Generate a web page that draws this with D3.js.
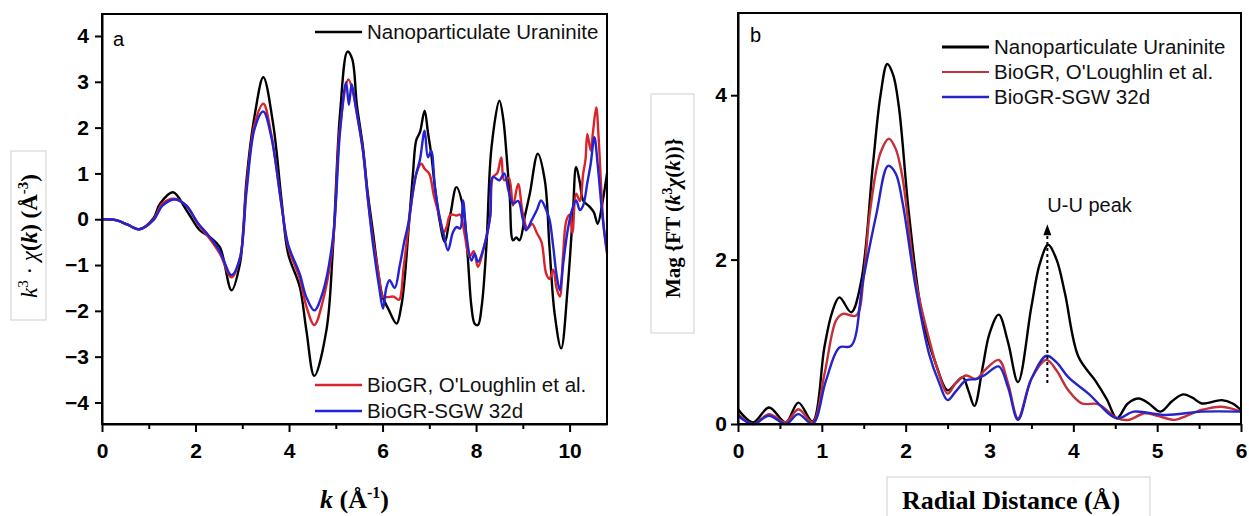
<!DOCTYPE html>
<html lang="en">
<head>
    <meta charset="UTF-8">
    <title>EXAFS uraninite comparison</title>
    <script src="https://d3js.org/d3.v7.min.js"></script>
    <style>
        body { margin: 0; background: #fff; }
        svg { font-family: "Liberation Sans", Arial, sans-serif; }
        .axis path, .axis line { stroke: #000; stroke-width: 2; }
        .axis text { font-size: 21px; font-weight: bold; fill: #000; }
        .legend text { font-size: 20.5px; fill: #111; }
        .serif { font-family: "Liberation Serif", "Times New Roman", serif; font-weight: bold; }
        .curve { fill: none; stroke-width: 2.4; stroke-linejoin: round; }
    </style>
</head>
<body>
<div id="chart"></div>
<script>
    // ---- panel a: k^3 chi(k), pairs of [k, value] ----
    var kUraninite = [
        [0,0],[0.3,-0.02],[0.55,-0.12],[0.8,-0.22],[1.1,0.02],[1.24,0.34],[1.52,0.59],[1.81,0.19],
        [2.09,-0.24],[2.31,-0.39],[2.52,-0.61],[2.77,-1.55],[2.95,-0.97],[3.02,-0.24],[3.09,0.85],
        [3.27,2.3],[3.45,3.10],[3.66,2.08],[3.84,0.41],[3.98,-0.75],[4.23,-1.48],[4.37,-2.42],
        [4.54,-3.42],[4.80,-2.42],[4.94,-0.61],[5.09,2.3],[5.25,3.66],[5.35,3.5],[5.45,2.5],
        [5.58,1.58],[5.68,0.6],[5.79,-0.24],[5.9,-1.1],[6.0,-1.69],[6.12,-1.95],[6.30,-2.28],
        [6.40,-1.9],[6.47,-1.33],[6.55,-0.3],[6.65,1.0],[6.72,1.72],[6.80,1.9],[6.90,2.37],
        [6.97,1.9],[7.04,1.43],[7.12,0.7],[7.22,-0.03],[7.33,-0.49],[7.45,0.1],[7.58,0.70],
        [7.72,0.27],[7.82,-0.8],[7.90,-1.9],[7.97,-2.28],[8.04,-2.31],[8.12,-1.9],[8.22,-0.6],
        [8.33,1.57],[8.50,2.59],[8.58,2.2],[8.65,1.43],[8.72,0.5],[8.79,-0.46],[8.86,-0.4],
        [8.93,-0.46],[9.05,0.1],[9.15,0.56],[9.32,1.43],[9.47,0.85],[9.57,-0.6],[9.68,-2.06],
        [9.82,-2.82],[9.96,-1.48],[10.07,0.12],[10.14,1.14],[10.22,0.8],[10.29,0.41],[10.43,0.27],
        [10.52,0.15],[10.60,-0.10],[10.71,0.41],[10.8,1.0]
    ];
    var kOLoughlin = [
        [0,0],[0.3,-0.02],[0.55,-0.12],[0.8,-0.22],[1.1,0.0],[1.3,0.35],[1.55,0.45],[1.8,0.3],
        [2.05,-0.1],[2.3,-0.42],[2.52,-0.75],[2.77,-1.27],[2.95,-0.85],[3.09,0.7],[3.27,2.1],
        [3.45,2.52],[3.62,1.85],[3.84,0.3],[3.98,-0.6],[4.23,-1.3],[4.37,-1.9],[4.54,-2.31],
        [4.72,-1.8],[4.94,-0.5],[5.09,2.0],[5.27,3.05],[5.38,2.7],[5.45,2.3],[5.58,1.5],[5.68,0.5],
        [5.79,-0.4],[5.93,-1.3],[6.0,-1.69],[6.10,-1.7],[6.24,-1.69],[6.35,-1.76],[6.45,-1.06],
        [6.55,-0.2],[6.65,0.6],[6.72,0.99],[6.83,1.21],[6.90,1.1],[7.0,0.99],[7.1,0.5],[7.22,0.05],
        [7.30,-0.3],[7.37,-0.17],[7.45,0.1],[7.58,0.08],[7.66,0.1],[7.75,-0.3],[7.86,-0.82],
        [7.95,-0.7],[8.04,-1.04],[8.17,-0.6],[8.30,0.05],[8.36,0.92],[8.45,1.0],[8.54,1.35],
        [8.60,0.85],[8.70,0.9],[8.79,0.3],[8.9,0.77],[9.0,0.12],[9.1,-0.2],[9.2,-0.1],[9.3,-0.3],
        [9.40,-0.5],[9.50,-1.19],[9.57,-1.3],[9.65,-1.1],[9.72,-1.5],[9.79,-1.69],[9.86,-0.8],
        [9.93,-0.03],[10.0,0.1],[10.06,-0.3],[10.14,0.56],[10.22,0.4],[10.29,0.99],[10.34,1.3],
        [10.38,1.86],[10.45,1.5],[10.50,1.9],[10.57,2.44],[10.62,1.8],[10.68,0.6],[10.73,-0.17],
        [10.8,-0.75]
    ];
    var kSGW32d = [
        [0,0],[0.3,-0.02],[0.55,-0.12],[0.8,-0.22],[1.1,-0.02],[1.3,0.30],[1.55,0.43],[1.8,0.3],
        [2.05,-0.08],[2.3,-0.38],[2.52,-0.7],[2.77,-1.22],[2.95,-0.85],[3.09,0.6],[3.27,2.0],
        [3.45,2.35],[3.62,1.8],[3.84,0.3],[3.98,-0.55],[4.23,-1.2],[4.37,-1.7],[4.54,-1.99],
        [4.72,-1.6],[4.94,-0.4],[5.09,1.9],[5.22,2.99],[5.28,2.5],[5.34,2.95],[5.42,2.5],[5.58,1.5],
        [5.68,0.5],[5.79,-0.5],[5.93,-1.5],[6.01,-1.95],[6.08,-1.5],[6.15,-1.33],[6.26,-1.5],
        [6.37,-1.0],[6.47,-0.46],[6.55,-0.1],[6.65,0.6],[6.72,0.99],[6.80,1.3],[6.90,1.93],
        [6.97,1.35],[7.04,1.49],[7.12,0.7],[7.22,0.05],[7.30,-0.3],[7.40,-0.68],[7.50,-0.3],
        [7.58,-0.17],[7.66,-0.2],[7.72,0.41],[7.80,-0.4],[7.90,-0.9],[7.97,-0.75],[8.04,-0.93],
        [8.17,-0.6],[8.30,0.05],[8.36,0.92],[8.50,0.85],[8.60,1.0],[8.70,0.6],[8.79,0.34],
        [8.90,0.4],[9.0,0.0],[9.07,-0.24],[9.2,0.0],[9.30,0.2],[9.39,0.41],[9.50,0.2],[9.57,0.0],
        [9.65,-0.6],[9.72,-1.2],[9.79,-1.55],[9.86,-1.0],[9.95,-0.3],[10.05,0.2],[10.14,0.41],
        [10.22,0.2],[10.29,0.3],[10.38,0.8],[10.45,1.2],[10.53,1.79],[10.60,1.2],[10.68,0.3],
        [10.73,-0.17],[10.8,-0.7]
    ];

    // ---- panel b: FT magnitude, pairs of [R, magnitude] ----
    var rUraninite = [
        [0,0.18],[0.18,0.02],[0.37,0.20],[0.57,0.02],[0.72,0.26],[0.89,0.03],[1.03,0.93],[1.12,1.35],
        [1.21,1.54],[1.35,1.36],[1.47,1.74],[1.61,3.16],[1.70,4.0],[1.78,4.38],[1.85,4.25],[1.92,3.85],
        [2.04,2.55],[2.20,1.30],[2.36,0.73],[2.50,0.41],[2.60,0.50],[2.68,0.57],[2.75,0.4],[2.82,0.22],
        [2.92,0.7],[3.0,1.1],[3.11,1.33],[3.22,1.0],[3.34,0.51],[3.50,1.43],[3.60,1.95],[3.70,2.18],
        [3.80,2.0],[3.90,1.59],[4.06,0.82],[4.26,0.53],[4.40,0.3],[4.52,0.07],[4.65,0.25],[4.78,0.31],
        [4.90,0.25],[5.04,0.15],[5.18,0.28],[5.31,0.36],[5.42,0.32],[5.53,0.25],[5.77,0.29],[5.90,0.25],
        [6.0,0.17]
    ];
    var rOLoughlin = [
        [0,0.12],[0.18,0.0],[0.37,0.12],[0.57,0.02],[0.72,0.18],[0.89,0.02],[1.03,0.6],[1.17,1.26],
        [1.25,1.34],[1.41,1.32],[1.50,1.8],[1.57,2.55],[1.70,3.3],[1.80,3.47],[1.88,3.35],[1.96,3.01],
        [2.12,1.74],[2.28,1.03],[2.40,0.6],[2.50,0.37],[2.60,0.5],[2.72,0.59],[2.84,0.55],[2.95,0.66],
        [3.11,0.78],[3.22,0.5],[3.34,0.07],[3.50,0.55],[3.68,0.78],[3.80,0.65],[3.94,0.41],[4.10,0.25],
        [4.30,0.24],[4.52,0.07],[4.66,0.05],[4.85,0.13],[5.0,0.1],[5.21,0.05],[5.35,0.1],[5.53,0.17],
        [5.77,0.21],[6.0,0.15]
    ];
    var rSGW32d = [
        [0,0.10],[0.18,0.0],[0.37,0.10],[0.57,0.0],[0.72,0.12],[0.89,0.0],[1.05,0.53],[1.21,0.93],
        [1.35,0.95],[1.49,1.74],[1.65,2.55],[1.79,3.14],[1.88,3.05],[1.96,2.71],[2.12,1.66],[2.28,0.85],
        [2.40,0.5],[2.50,0.29],[2.60,0.4],[2.72,0.53],[2.85,0.55],[2.95,0.6],[3.11,0.70],[3.22,0.45],
        [3.34,0.05],[3.50,0.55],[3.68,0.83],[3.80,0.75],[3.94,0.57],[4.18,0.37],[4.52,0.07],[4.72,0.15],
        [5.1,0.11],[5.53,0.15],[6.0,0.15]
    ];

    var seriesNames = ["Nanoparticulate Uraninite", "BioGR, O'Loughlin et al.", "BioGR-SGW 32d"];
    var seriesColors = ["#000000", "#d8242a", "#2222d6"];
    var seriesColorsB = ["#000000", "#c43038", "#2424c8"];

    var kTicks = [0, 2, 4, 6, 8, 10];
    var kMinorTicks = [1, 3, 5, 7, 9];
    var chiTicks = [-4, -3, -2, -1, 0, 1, 2, 3, 4];
    var rTicks = [0, 1, 2, 3, 4, 5, 6];
    var rMinorTicks = [0.5, 1.5, 2.5, 3.5, 4.5, 5.5];
    var magTicks = [0, 2, 4];
    var uuPeakR = 3.69, uuArrow = [0.5, 2.43];

    var width = 1249, height = 516;
    var svg = d3.select("#chart").append("svg")
        .attr("width", width)
        .attr("height", height);

    // scales
    var xA = d3.scaleLinear().domain([0, 10.8]).range([102, 607]);
    var yA = d3.scaleLinear().domain([-4.47, 4.48]).range([424, 14]);
    var xB = d3.scaleLinear().domain([0, 6]).range([738, 1241]);
    var yB = d3.scaleLinear().domain([0, 5]).range([424, 13]);

    function drawFrame(x, y) {
        svg.append("rect")
            .attr("x", x.range()[0]).attr("y", y.range()[1])
            .attr("width", x.range()[1] - x.range()[0])
            .attr("height", y.range()[0] - y.range()[1])
            .attr("fill", "none").attr("stroke", "#000").attr("stroke-width", 2);
    }

    function drawAxes(x, y, xt, xm, yt, yPad) {
        svg.append("g").attr("class", "axis")
            .attr("transform", "translate(0," + y.range()[0] + ")")
            .call(d3.axisBottom(x).tickValues(xm).tickSize(5).tickFormat(""))
            .select(".domain").remove();
        svg.append("g").attr("class", "axis")
            .attr("transform", "translate(0," + y.range()[0] + ")")
            .call(d3.axisBottom(x).tickValues(xt).tickSize(8).tickPadding(11).tickSizeOuter(0).tickFormat(d3.format("d")));
        svg.append("g").attr("class", "axis")
            .attr("transform", "translate(" + x.range()[0] + ",0)")
            .call(d3.axisLeft(y).tickValues(yt).tickSize(7).tickPadding(yPad).tickSizeOuter(0).tickFormat(d3.format("d")));
    }

    function drawLines(x, y, sets, colors, w) {
        var line = d3.line()
            .x(function(d) { return x(d[0]); })
            .y(function(d) { return y(d[1]); })
            .curve(d3.curveCatmullRom.alpha(0.5));
        sets.forEach(function(s, i) {
            svg.append("path")
                .datum(s)
                .attr("class", "curve")
                .attr("stroke", colors[i])
                .attr("stroke-width", w)
                .attr("d", line);
        });
    }

    function legendRow(x0, y0, name, color, lw) {
        var g = svg.append("g").attr("class", "legend");
        g.append("line")
            .attr("x1", x0).attr("x2", x0 + 47)
            .attr("y1", y0).attr("y2", y0)
            .attr("stroke", color).attr("stroke-width", lw);
        g.append("text")
            .attr("x", x0 + 52).attr("y", y0 + 7)
            .text(name);
    }

    // ---- panel a ----
    drawLines(xA, yA, [kUraninite, kOLoughlin, kSGW32d], seriesColors, 2.4);
    drawFrame(xA, yA);
    drawAxes(xA, yA, kTicks, kMinorTicks, chiTicks, 6);

    svg.append("text").attr("x", 113).attr("y", 46)
        .style("font-size", "20px").text("a");

    legendRow(315, 32, seriesNames[0], seriesColors[0], 2.4);
    legendRow(315, 385, seriesNames[1], seriesColors[1], 2.6);
    legendRow(315, 411, seriesNames[2], seriesColors[2], 2.6);

    // y label a
    svg.append("rect").attr("x", 11).attr("y", 151).attr("width", 35).attr("height", 169)
        .attr("fill", "#fff").attr("stroke", "#cfcfcf").attr("stroke-width", 1);
    var yla = svg.append("text").attr("class", "serif")
        .attr("transform", "translate(37,236) rotate(-90)")
        .attr("text-anchor", "middle")
        .style("font-size", "23px");
    yla.append("tspan").style("font-style", "italic").style("font-weight", "normal").text("k");
    yla.append("tspan").attr("dy", -9).style("font-size", "15px").style("font-weight", "normal").text("3");
    yla.append("tspan").attr("dy", 9).style("font-weight", "normal").text(" · ");
    yla.append("tspan").style("font-style", "italic").style("font-weight", "normal").text("χ");
    yla.append("tspan").text("(");
    yla.append("tspan").style("font-style", "italic").text("k");
    yla.append("tspan").text(") (Å");
    yla.append("tspan").attr("dy", -9).style("font-size", "15px").text("-3");
    yla.append("tspan").attr("dy", 9).text(")");

    // x label a
    var xla = svg.append("text").attr("class", "serif")
        .attr("x", 320).attr("y", 508)
        .style("font-size", "26px");
    xla.append("tspan").style("font-style", "italic").text("k");
    xla.append("tspan").text(" (Å");
    xla.append("tspan").attr("dy", -10).style("font-size", "16px").text("-1");
    xla.append("tspan").attr("dy", 10).text(")");

    // ---- panel b ----
    drawLines(xB, yB, [rUraninite, rOLoughlin, rSGW32d], seriesColorsB, 2.4);
    drawFrame(xB, yB);
    drawAxes(xB, yB, rTicks, rMinorTicks, magTicks, 4);

    svg.append("text").attr("x", 750).attr("y", 42)
        .style("font-size", "20px").text("b");

    legendRow(942, 47, seriesNames[0], seriesColorsB[0], 3);
    legendRow(942, 72, seriesNames[1], seriesColorsB[1], 2);
    legendRow(942, 97, seriesNames[2], seriesColorsB[2], 2.5);

    // U-U peak annotation
    var ax = xB(uuPeakR);
    svg.append("line")
        .attr("x1", ax).attr("x2", ax)
        .attr("y1", yB(uuArrow[0])).attr("y2", yB(uuArrow[1]) + 9)
        .attr("stroke", "#000").attr("stroke-width", 2)
        .attr("stroke-dasharray", "3,3");
    svg.append("path")
        .attr("d", "M" + ax + "," + yB(uuArrow[1]) + "l-4,11l8,0z")
        .attr("fill", "#000");
    svg.append("text").attr("x", ax).attr("y", yB(uuArrow[1]) - 12)
        .style("font-size", "20px").attr("fill", "#111").text("U-U peak");

    // y label b
    svg.append("rect").attr("x", 651).attr("y", 94).attr("width", 43).attr("height", 239)
        .attr("fill", "#fff").attr("stroke", "#cfcfcf").attr("stroke-width", 1);
    var ylb = svg.append("text").attr("class", "serif")
        .attr("transform", "translate(680,218) rotate(-90)")
        .attr("text-anchor", "middle")
        .style("font-size", "21px");
    ylb.append("tspan").text("Mag {FT (");
    ylb.append("tspan").style("font-style", "italic").text("k");
    ylb.append("tspan").attr("dy", -8).style("font-size", "14px").text("3");
    ylb.append("tspan").attr("dy", 8).style("font-style", "italic").text("χ");
    ylb.append("tspan").text("(");
    ylb.append("tspan").style("font-style", "italic").text("k");
    ylb.append("tspan").text("))}");

    // x label b
    svg.append("rect").attr("x", 887).attr("y", 477).attr("width", 263).attr("height", 60)
        .attr("fill", "#fff").attr("stroke", "#cfcfcf").attr("stroke-width", 1);
    svg.append("text").attr("class", "serif")
        .attr("x", 1011).attr("y", 509)
        .attr("text-anchor", "middle")
        .style("font-size", "26px")
        .text("Radial Distance (Å)");
</script>
</body>
</html>
